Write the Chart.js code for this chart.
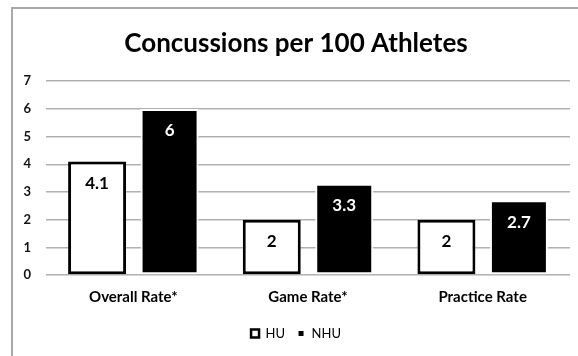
<!DOCTYPE html>
<html><head><meta charset="utf-8">
<script src="https://cdn.jsdelivr.net/npm/chart.js@4"></script>
<style>html,body{margin:0;padding:0;background:#fff}#wrap{width:578px;height:356px;position:relative}</style>
</head><body><div id="wrap"><canvas id="c" width="578" height="356"></canvas></div>
<script>
const categories = ['Overall Rate*', 'Game Rate*', 'Practice Rate'];
const seriesNames = ['HU', 'NHU'];
const huValues = [4.1, 2, 2];
const nhuValues = [6, 3.3, 2.7];
const yTickValues = [0, 1, 2, 3, 4, 5, 6, 7];

const FONT = 'Lato';

const frame = {
  id: 'frame',
  beforeDraw(chart) {
    const ctx = chart.ctx;
    ctx.save();
    ctx.fillStyle = '#fff';
    ctx.fillRect(0, 0, chart.width, chart.height);
    ctx.strokeStyle = '#a8a8a8';
    ctx.lineWidth = 2;
    ctx.beginPath();
    ctx.moveTo(12, chart.height);
    ctx.lineTo(12, 8);
    ctx.lineTo(chart.width, 8);
    ctx.stroke();
    ctx.restore();
  }
};

const valueLabels = {
  id: 'valueLabels',
  afterDatasetsDraw(chart) {
    const ctx = chart.ctx;
    chart.data.datasets.forEach((ds, i) => {
      const meta = chart.getDatasetMeta(i);
      meta.data.forEach((bar, j) => {
        ctx.save();
        ctx.font = 'bold 17px ' + FONT;
        ctx.fillStyle = i === 0 ? '#000' : '#fff';
        ctx.textAlign = 'center';
        ctx.textBaseline = 'middle';
        ctx.fillText(String(ds.data[j]), bar.x, bar.y + 22);
        ctx.restore();
      });
    });
  }
};

new Chart(document.getElementById('c'), {
  type: 'bar',
  data: {
    labels: categories,
    datasets: [
      { label: seriesNames[0], data: huValues, backgroundColor: '#ffffff', borderColor: '#000000', borderWidth: 3, borderSkipped: false },
      { label: seriesNames[1], data: nhuValues, backgroundColor: '#000000', borderColor: '#ffffff', borderWidth: 2, borderSkipped: false }
    ]
  },
  options: {
    responsive: false,
    animation: false,
    devicePixelRatio: 1,
    categoryPercentage: 0.83,
    barPercentage: 0.8,
    layout: { padding: { left: 22, right: 8, top: 0, bottom: 6 } },
    plugins: {
      title: {
        display: true,
        text: 'Concussions per 100 Athletes',
        color: '#000',
        font: { family: FONT, size: 26, weight: 'bold' },
        padding: { top: 28, bottom: 22 }
      },
      legend: {
        display: true,
        position: 'bottom',
        labels: {
          boxWidth: 8,
          boxHeight: 8,
          color: '#000',
          font: { family: FONT, size: 13 },
          padding: 12,
          generateLabels: () => [
            { text: seriesNames[0], fillStyle: '#ffffff', strokeStyle: '#000000', lineWidth: 2.5, datasetIndex: 0, fontColor: '#000' },
            { text: seriesNames[1], fillStyle: '#000000', strokeStyle: '#ffffff', lineWidth: 3, datasetIndex: 1, fontColor: '#000' }
          ]
        }
      },
      tooltip: { enabled: false }
    },
    scales: {
      x: {
        grid: { display: false },
        border: { display: false },
        ticks: { color: '#000', font: { family: FONT, size: 15, weight: 'bold' }, padding: 5 },
        afterFit(scale) { scale.height = 40; }
      },
      y: {
        min: 0, max: 7,
        afterBuildTicks(scale) { scale.ticks = yTickValues.map(v => ({ value: v })); },
        grid: { color: '#b0b0b0', lineWidth: 1.5, drawTicks: false },
        border: { display: false },
        ticks: { color: '#111', font: { family: FONT, size: 13, weight: 'bold' }, padding: 15 },
        afterFit(scale) { scale.width = 24; }
      }
    }
  },
  plugins: [frame, valueLabels]
});
</script>
</body></html>
